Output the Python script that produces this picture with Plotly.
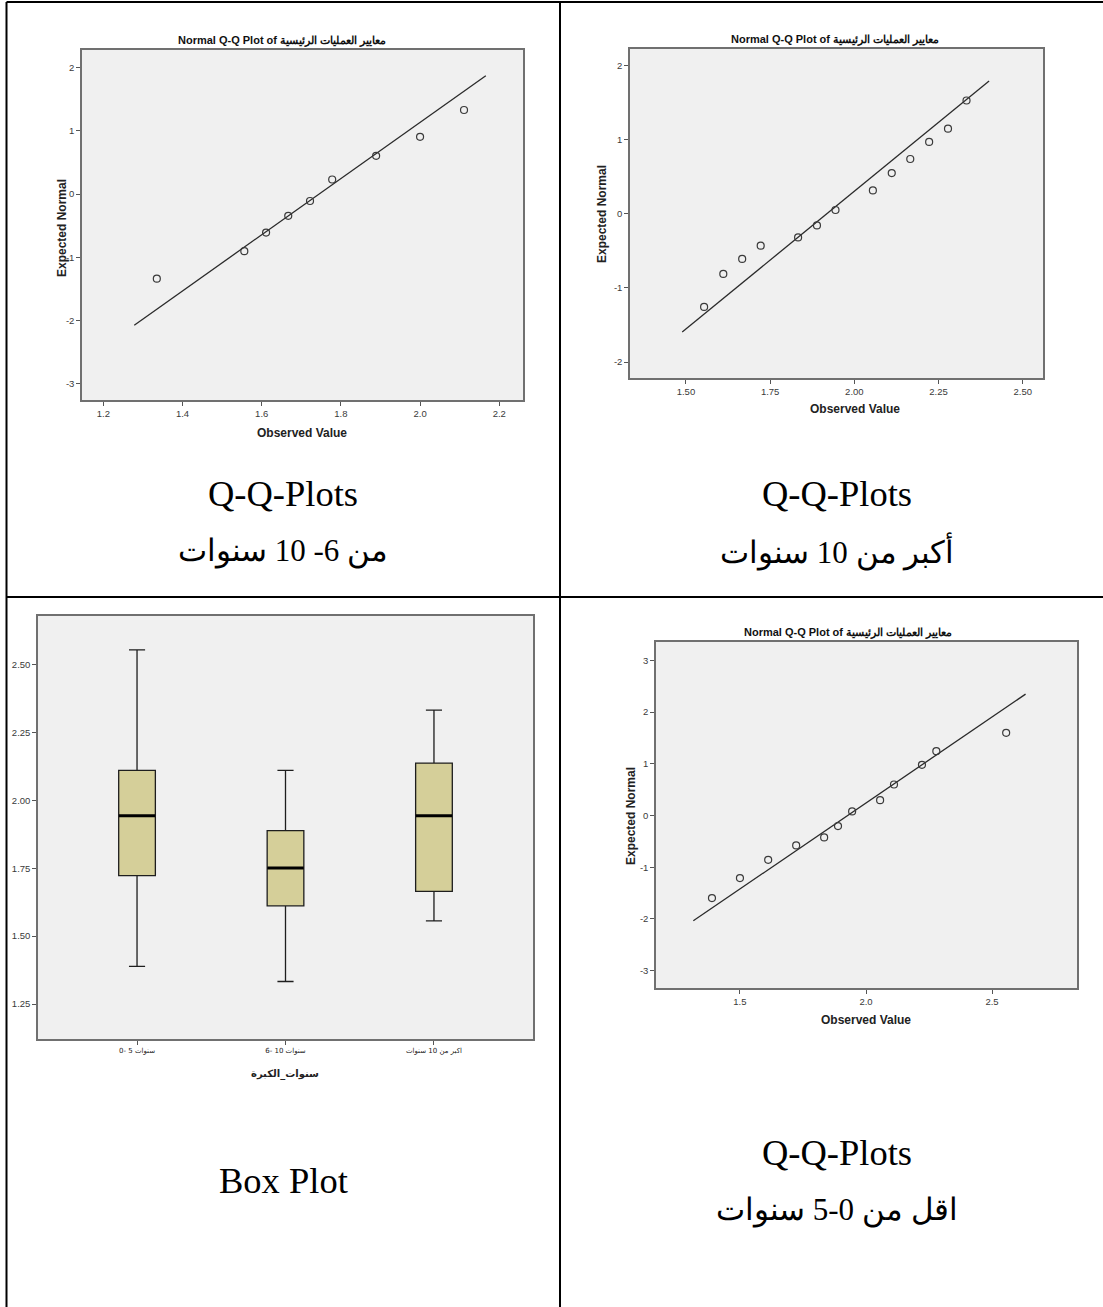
import plotly.graph_objects as go

W, H = 1103, 1307

# ---------------- data ----------------
TITLE = "Normal Q-Q Plot of معايير العمليات الرئيسية"

# Q-Q 6-10 years (top-left)
qq1_obs = [1.335, 1.556, 1.611, 1.667, 1.722, 1.778, 1.889, 2.000, 2.111]
qq1_exp = [-1.34, -0.905, -0.61, -0.345, -0.11, 0.23, 0.605, 0.905, 1.33]
qq1_mean, qq1_sd = 1.745, 0.225
qq1_line_x = [1.278, 2.166]

# Q-Q >10 years (top-right)
qq2_obs = [1.554, 1.611, 1.667, 1.722, 1.833, 1.889, 1.944, 2.055, 2.111, 2.166, 2.222, 2.278, 2.333]
qq2_exp = [-1.256, -0.811, -0.609, -0.43, -0.318, -0.156, 0.052, 0.316, 0.55, 0.74, 0.97, 1.15, 1.53]
qq2_mean, qq2_sd = 1.918, 0.269
qq2_line_x = [1.489, 2.400]

# Q-Q 0-5 years (bottom-right)
qq3_obs = [1.389, 1.500, 1.612, 1.723, 1.834, 1.889, 1.945, 2.056, 2.111, 2.222, 2.279, 2.556]
qq3_exp = [-1.596, -1.21, -0.856, -0.578, -0.424, -0.203, 0.08, 0.297, 0.60, 0.98, 1.244, 1.60]
qq3_mean, qq3_sd = 1.927, 0.3006
qq3_line_x = [1.315, 2.633]

# Box plot
box_cats = ["0- 5 سنوات", "6- 10 سنوات", "اكبر من 10 سنوات"]
box_low = [1.389, 1.333, 1.556]
box_q1 = [1.723, 1.612, 1.665]
box_med = [1.944, 1.751, 1.944]
box_q3 = [2.111, 1.889, 2.138]
box_high = [2.555, 2.111, 2.333]

captions_tl = ["Q-Q-Plots", "من 6- 10 سنوات"]
captions_tr = ["Q-Q-Plots", "أكبر من 10 سنوات"]
captions_bl = ["Box Plot"]
captions_br = ["Q-Q-Plots", "اقل من 0-5 سنوات"]

# ---------------- helpers ----------------
def px_x(v):
    return v / W

def px_y(v):
    return 1 - v / H

FRAME = "#707070"
TICKFONT = dict(family="Liberation Sans, Arial, sans-serif", size=9.5, color="#3a3a3a")

fig = go.Figure()

def qq(obs, exp, mean, sd, lx, xa, ya):
    ly = [(v - mean) / sd for v in lx]
    fig.add_trace(go.Scatter(x=lx, y=ly, mode="lines", line=dict(color="#2a2a2a", width=1.3),
                             xaxis=xa, yaxis=ya, showlegend=False, hoverinfo="skip"))
    fig.add_trace(go.Scatter(x=obs, y=exp, mode="markers",
                             marker=dict(symbol="circle-open", size=7, color="#3a3a3a",
                                         line=dict(width=1.2, color="#3a3a3a")),
                             xaxis=xa, yaxis=ya, showlegend=False))

qq(qq1_obs, qq1_exp, qq1_mean, qq1_sd, qq1_line_x, "x", "y")
qq(qq2_obs, qq2_exp, qq2_mean, qq2_sd, qq2_line_x, "x2", "y2")
qq(qq3_obs, qq3_exp, qq3_mean, qq3_sd, qq3_line_x, "x4", "y4")

box_pos = list(range(len(box_cats)))
fig.add_trace(go.Box(x=box_pos, q1=box_q1, median=box_med, q3=box_q3,
                     lowerfence=box_low, upperfence=box_high,
                     fillcolor="#d5cf99", line=dict(color="#1e1e1e", width=1.3),
                     width=0.247, whiskerwidth=0.44, boxpoints=False,
                     xaxis="x3", yaxis="y3", showlegend=False))
# thick median lines
for i, m in zip(box_pos, box_med):
    fig.add_trace(go.Scatter(x=[i - 0.122, i + 0.122], y=[m, m], mode="lines",
                             line=dict(color="black", width=3), xaxis="x3", yaxis="y3",
                             showlegend=False, hoverinfo="skip"))

def axis(dom_px, rng, tickvals, ticktext, horizontal, anchor):
    if horizontal:
        dom = [px_x(dom_px[0]), px_x(dom_px[1])]
    else:
        dom = sorted([px_y(dom_px[0]), px_y(dom_px[1])])
    return dict(domain=dom, range=rng, showgrid=False, zeroline=False,
                showline=True, linecolor=FRAME, linewidth=1.5, mirror=True,
                ticks="outside", ticklen=4, tickcolor="#555555", tickwidth=1,
                tickfont=TICKFONT, anchor=anchor,
                tickmode="array", tickvals=tickvals, ticktext=ticktext)

def fmt(vals, f):
    return [f.format(v) for v in vals]

lay = dict(width=W, height=H, margin=dict(l=0, r=0, t=0, b=0),
           paper_bgcolor="white", plot_bgcolor="#f0f0f0", showlegend=False)

t = [1.2, 1.4, 1.6, 1.8, 2.0, 2.2]
lay["xaxis"] = axis([82, 523], [1.146, 2.26], t, fmt(t, "{:.1f}"), True, "y")
t = [-3, -2, -1, 0, 1, 2]
lay["yaxis"] = axis([50, 400], [-3.26, 2.28], t, fmt(t, "{:d}"), False, "x")
t = [1.5, 1.75, 2.0, 2.25, 2.5]
lay["xaxis2"] = axis([630, 1043], [1.334, 2.56], t, fmt(t, "{:.2f}"), True, "y2")
t = [-2, -1, 0, 1, 2]
lay["yaxis2"] = axis([49, 378], [-2.216, 2.225], t, fmt(t, "{:d}"), False, "x2")
lay["xaxis3"] = axis([38, 533], [-0.667, 2.667], box_pos, box_cats, True, "y3")
lay["xaxis3"].update(tickfont=dict(family="DejaVu Sans, Arial, sans-serif", size=7, color="#222222"))
t = [1.25, 1.5, 1.75, 2.0, 2.25, 2.5]
lay["yaxis3"] = axis([616, 1039], [1.121, 2.68], t, fmt(t, "{:.2f}"), False, "x3")
t = [1.5, 2.0, 2.5]
lay["xaxis4"] = axis([656, 1077], [1.167, 2.837], t, fmt(t, "{:.1f}"), True, "y4")
t = [-3, -2, -1, 0, 1, 2, 3]
lay["yaxis4"] = axis([642, 988], [-3.335, 3.356], t, fmt(t, "{:d}"), False, "x4")

fig.update_layout(**lay)

ann = []
def text(x, y, s, font, angle=0):
    ann.append(dict(x=px_x(x), y=px_y(y), xref="paper", yref="paper", text=s, showarrow=False,
                    font=font, textangle=angle, xanchor="center", yanchor="middle"))

titlefont = dict(family="Liberation Sans, Arial, sans-serif", size=11, color="#111111")
axfont = dict(family="Liberation Sans, Arial, sans-serif", size=12, color="#222222")

# chart titles
text(282, 40, "<b>" + TITLE + "</b>", titlefont)
text(835, 39, "<b>" + TITLE + "</b>", titlefont)
text(848, 632, "<b>" + TITLE + "</b>", titlefont)
# axis titles
text(302, 433, "<b>Observed Value</b>", axfont)
text(62, 228, "<b>Expected Normal</b>", axfont, -90)
text(855, 409, "<b>Observed Value</b>", axfont)
text(602, 214, "<b>Expected Normal</b>", axfont, -90)
text(866, 1020, "<b>Observed Value</b>", axfont)
text(631, 816, "<b>Expected Normal</b>", axfont, -90)
text(285, 1074, "<b>سنوات_الكبرة</b>", dict(family="DejaVu Sans, Arial, sans-serif", size=10, color="#222222"))

latfont = dict(family="Liberation Serif, Times New Roman, serif", size=36.5, color="black")
arfont = dict(family="Liberation Serif, Times New Roman, serif", size=31, color="black")
text(283, 493, captions_tl[0], latfont)
text(283, 551, captions_tl[1], arfont)
text(837, 493, captions_tr[0], latfont)
text(837, 551, captions_tr[1], arfont)
text(283, 1180, captions_bl[0], latfont)
text(837, 1152, captions_br[0], latfont)
text(837, 1210, captions_br[1], arfont)

fig.update_layout(annotations=ann)

# table borders
lw = 2
shapes = []
def seg(x0, y0, x1, y1):
    shapes.append(dict(type="line", xref="paper", yref="paper",
                       x0=px_x(x0), y0=px_y(y0), x1=px_x(x1), y1=px_y(y1),
                       line=dict(color="black", width=lw)))
seg(6.5, 2, 1103, 2)
seg(6.5, 2, 6.5, 1307)
seg(560, 2, 560, 1307)
seg(6.5, 597, 1103, 597)
fig.update_layout(shapes=shapes)

fig.write_html("out.html", config={"displayModeBar": False},
               post_script="document.body.style.margin='0';document.body.style.overflow='hidden';")
